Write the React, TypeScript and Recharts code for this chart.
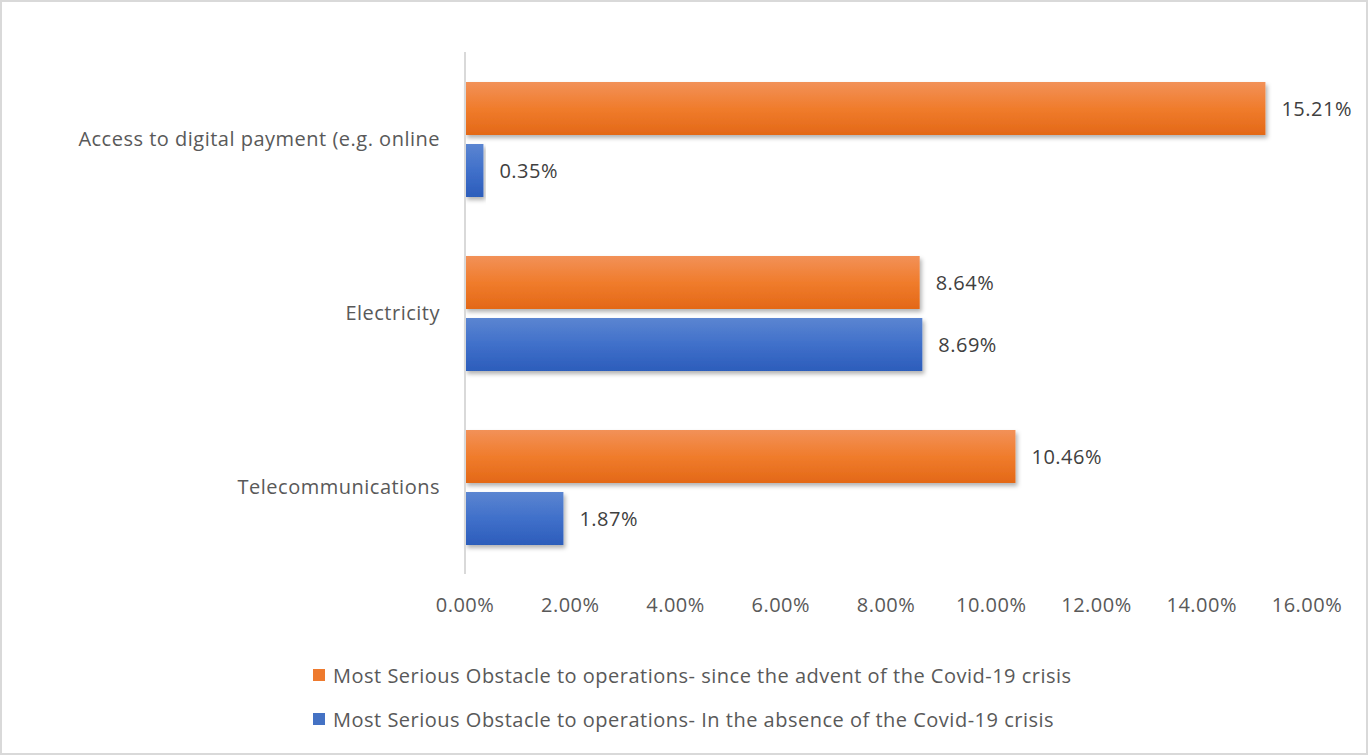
import React from 'react';
import { BarChart, Bar, XAxis, YAxis, LabelList } from 'recharts';

const categories = ['Access to digital payment (e.g. online', 'Electricity', 'Telecommunications'];
const sinceCovid = [15.21, 8.64, 10.46];
const absenceCovid = [0.35, 8.69, 1.87];
const xTicks = [0, 2, 4, 6, 8, 10, 12, 14, 16];
const seriesNames = [
  'Most Serious Obstacle to operations- since the advent of the Covid-19 crisis',
  'Most Serious Obstacle to operations- In the absence of the Covid-19 crisis',
];

const data = categories.map((c, i) => ({ name: c, since: sinceCovid[i], absence: absenceCovid[i] }));

const FONT = '"Open Sans", sans-serif';
const FS = 20;
const LS = 0.5;

const makeShape = (grad: string) => (props: any) => {
  const { x, y, width, height } = props;
  if (!width || width <= 0) return null;
  return <rect x={x} y={y} width={width} height={height} fill={`url(#${grad})`} filter="url(#barShadow)" />;
};

export default function App() {
  return (
    <div style={{ position: 'absolute', left: 0, top: 0, width: 1368, height: 755, boxSizing: 'border-box', border: '2px solid #D9D9D9', background: '#fff', overflow: 'hidden' }}>
      <div style={{ position: 'absolute', left: -2, top: -2 }}>
        <BarChart
          width={1368}
          height={755}
          data={data}
          layout="vertical"
          margin={{ top: 52, right: 61, bottom: 151, left: 0 }}
          barCategoryGap="17%"
          barGap={9}
        >
          <defs>
            <linearGradient id="gOrange" x1="0" y1="0" x2="0" y2="1">
              <stop offset="0%" stopColor="#F29158" />
              <stop offset="50%" stopColor="#F07C2C" />
              <stop offset="100%" stopColor="#E36817" />
            </linearGradient>
            <linearGradient id="gBlue" x1="0" y1="0" x2="0" y2="1">
              <stop offset="0%" stopColor="#5B85D1" />
              <stop offset="50%" stopColor="#4070CA" />
              <stop offset="100%" stopColor="#2C5DBB" />
            </linearGradient>
            <filter id="barShadow" x="-5%" y="-20%" width="115%" height="150%">
              <feDropShadow dx="2" dy="3" stdDeviation="2" floodColor="#000" floodOpacity="0.3" />
            </filter>
          </defs>
          <XAxis
            type="number"
            domain={[0, 16]}
            ticks={xTicks}
            tickFormatter={(v: number) => `${v.toFixed(2)}%`}
            axisLine={false}
            tickLine={false}
            tickMargin={18}
            height={30}
            tick={{ fill: '#595959', fontSize: FS, fontFamily: FONT, letterSpacing: LS }}
            interval={0}
          />
          <YAxis
            type="category"
            dataKey="name"
            width={465}
            axisLine={{ stroke: '#D9D9D9', strokeWidth: 2 }}
            tickLine={false}
            tickMargin={19}
            tick={{ fill: '#595959', fontSize: FS, fontFamily: FONT, letterSpacing: LS }}
          />
          <Bar dataKey="since" name={seriesNames[0]} barSize={53} isAnimationActive={false} shape={makeShape('gOrange')}>
            <LabelList dataKey="since" position="right" offset={16} formatter={(v: number) => `${v.toFixed(2)}%`} style={{ fill: '#404040', fontSize: FS, fontFamily: FONT, letterSpacing: LS }} />
          </Bar>
          <Bar dataKey="absence" name={seriesNames[1]} barSize={53} isAnimationActive={false} shape={makeShape('gBlue')}>
            <LabelList dataKey="absence" position="right" offset={16} formatter={(v: number) => `${v.toFixed(2)}%`} style={{ fill: '#404040', fontSize: FS, fontFamily: FONT, letterSpacing: LS }} />
          </Bar>
        </BarChart>
      </div>
      <div style={{ position: 'absolute', left: 311, top: 651, fontFamily: FONT, fontSize: FS, letterSpacing: LS, color: '#595959' }}>
        {[['#EE7A2E', seriesNames[0]], ['#4472C4', seriesNames[1]]].map(([c, t], i) => (
          <div key={i} style={{ display: 'flex', alignItems: 'center', height: 44 }}>
            <span style={{ display: 'inline-block', width: 12, height: 12, background: c, marginRight: 8 }} />
            <span>{t}</span>
          </div>
        ))}
      </div>
    </div>
  );
}
